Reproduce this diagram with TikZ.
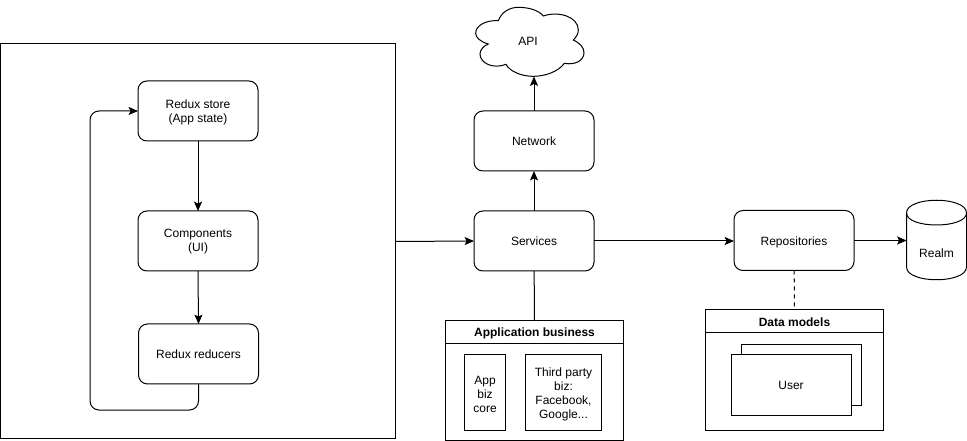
\documentclass[tikz,border=0pt]{standalone}
\usepackage{fontspec}
\setmainfont{Liberation Sans}
\usetikzlibrary{arrows.meta}
\tikzset{
  px/.style 2 args={minimum width=#1*0.75pt, minimum height=#2*0.75pt},
  base/.style={inner sep=0pt, outer sep=0pt, align=center, font=\fontsize{9}{10.5}\selectfont, text=black},
  one/.style={text height=7pt, text depth=0pt},
  rbox/.style={base, draw=black, line width=0.75pt, rounded corners=6.75pt, px={120}{60}, fill=white},
  sbox/.style={base, draw=black, line width=0.75pt, fill=white},
  lbl/.style={base},
  conn/.style={draw=black, line width=0.75pt},
  arr/.style={conn, -{Stealth[length=7pt, width=6pt, inset=1.4pt]}},
}
\begin{document}
\begin{tikzpicture}[x=0.75pt, y=-0.75pt]
\useasboundingbox (0,0) rectangle (967,441);
% large frame
\node[sbox, px={395.5}{394}] (frame) at (198,241) {};
% left column
\node[rbox] (store) at (198,111) {};
\node[lbl] (storetext) at (198,112) {Redux store\\(App state)};
\node[rbox] (comp) at (198,241) {};
\node[lbl] (comptext) at (198,242) {Components\\(UI)};
\node[rbox, one] (red) at (198.5,354) {Redux reducers};
% centre column
\node[rbox, one] (net) at (534,141) {Network};
\node[rbox, one] (serv) at (534,241) {Services};
% cloud
\begin{scope}[shift={(430,0)}, x=0.25pt, y=-0.25pt]
\draw[line width=0.75pt, fill=white]
  (205,62) .. controls (215,35) and (240,22) .. (265,22)
  .. controls (295,22) and (325,30) .. (340,48)
  .. controls (385,32) and (445,50) .. (445,90)
  .. controls (445,102) and (438,112) .. (430,120)
  .. controls (450,130) and (462,142) .. (462,158)
  .. controls (462,182) and (435,196) .. (403,190)
  .. controls (385,215) and (345,229) .. (310,229)
  .. controls (275,229) and (240,215) .. (228,193)
  .. controls (190,208) and (150,190) .. (150,162)
  .. controls (150,150) and (160,138) .. (175,132)
  .. controls (150,125) and (137,112) .. (137,100)
  .. controls (137,75) and (170,60) .. (205,62) -- cycle;
\end{scope}
\node[lbl, one] (api) at (528,41) {API};
\coordinate (cloudb) at (534,76.5);
% right column
\node[rbox, one] (repo) at (794,240.5) {Repositories};
% cylinder
\draw[line width=0.75pt, fill=white]
  (906.5,213) .. controls (906.5,196) and (966.5,196) .. (966.5,213)
  -- (966.5,267) .. controls (966.5,284) and (906.5,284) .. (906.5,267) -- cycle;
\draw[line width=0.75pt] (906.5,213) .. controls (906.5,229) and (966.5,229) .. (966.5,213);
\node[base, px={60}{80}] (realm) at (936.5,240) {};
\node[lbl, one] (realmtext) at (936.5,252.5) {Realm};
% application business
\node[sbox, px={178}{120}] (app) at (534.5,380.5) {};
\node[sbox, one, px={178}{23}, font=\fontsize{9}{10.5}\selectfont\bfseries] (apph) at (534.5,332) {Application business};
\node[sbox, px={41}{75}] (core) at (485,392.5) {};
\node[lbl] (coretext) at (485,394) {App\\biz\\core};
\node[sbox, px={76}{75}] (third) at (563.5,392.5) {};
\node[lbl] (thirdtext) at (563.5,394) {Third party\\biz:\\Facebook,\\Google...};
% data models
\node[sbox, px={178}{120}] (data) at (794.5,370) {};
\node[sbox, one, px={178}{23}, font=\fontsize{9}{10.5}\selectfont\bfseries] (datah) at (794.5,321.5) {Data models};
\node[sbox, px={120}{60}] (userb) at (801,375) {};
\node[sbox, one, px={120}{60}] (user) at (791,385) {User};
% connectors
\draw[arr] (store) -- (comp);
\draw[arr] (comp.south) -- (red.north);
\draw[arr, rounded corners=6.75pt] (red.south) -- (198.5,410) -- (90,410) -- (90,111) -- (store.west);
\draw[arr] (frame.east |- 0,241.5) -- (serv.west);
\draw[arr] (serv) -- (net);
\draw[arr] (net) -- (cloudb);
\draw[arr] (serv.east) -- (repo.west |- serv.east);
\draw[arr] (repo.east) -- (realm.west |- repo.east);
\draw[conn] (serv) -- (apph);
\draw[conn, dash pattern=on 3pt off 3pt] (repo) -- (datah);
\end{tikzpicture}
\end{document}
